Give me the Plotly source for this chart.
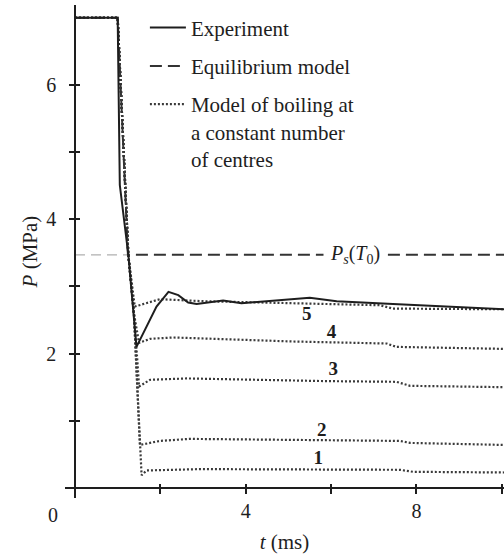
import plotly.graph_objects as go

# ---------------- data ----------------
t_exp = [0, 1.0, 1.05, 1.25, 1.44, 1.72, 1.91, 2.19, 2.42, 2.65, 2.85, 3.47, 3.90, 5.50, 6.13, 7.45, 10.05]
p_exp = [7.0, 7.0, 4.51, 3.47, 2.10, 2.45, 2.70, 2.92, 2.87, 2.76, 2.74, 2.79, 2.75, 2.83, 2.78, 2.74, 2.66]

t_eq = [0, 1.0, 1.24, 10.05]
p_eq = [7.0, 7.0, 3.47, 3.47]
t_ps_guide = [0, 1.24]
p_ps_guide = [3.47, 3.47]

t_m1 = [0, 1.0, 1.25, 1.38, 1.46, 1.52, 1.56, 1.68, 2.93, 7.61, 7.92, 10.05]
p_m1 = [7.0, 7.0, 3.47, 2.6, 1.5, 0.6, 0.19, 0.26, 0.28, 0.27, 0.24, 0.23]
t_m2 = [0, 1.0, 1.25, 1.38, 1.46, 1.52, 1.99, 2.69, 7.61, 7.85, 10.05]
p_m2 = [7.0, 7.0, 3.47, 2.6, 1.5, 0.64, 0.70, 0.73, 0.70, 0.67, 0.64]
t_m3 = [0, 1.0, 1.25, 1.38, 1.46, 1.50, 1.76, 2.62, 5.90, 7.53, 7.85, 10.05]
p_m3 = [7.0, 7.0, 3.47, 2.6, 1.9, 1.51, 1.61, 1.63, 1.59, 1.58, 1.52, 1.50]
t_m4 = [0, 1.0, 1.25, 1.38, 1.50, 1.76, 2.30, 5.11, 7.30, 7.53, 10.05]
p_m4 = [7.0, 7.0, 3.47, 2.6, 2.16, 2.22, 2.24, 2.18, 2.15, 2.10, 2.07]
t_m5 = [0, 1.0, 1.25, 1.40, 1.99, 3.0, 5.10, 7.14, 7.45, 10.05]
p_m5 = [7.0, 7.0, 3.47, 2.70, 2.81, 2.78, 2.75, 2.72, 2.67, 2.66]

model_t = [t_m1, t_m2, t_m3, t_m4, t_m5]
model_p = [p_m1, p_m2, p_m3, p_m4, p_m5]

label_text = ["1", "2", "3", "4", "5"]
label_t = [5.70, 5.78, 6.05, 6.01, 5.43]
label_p = [0.42, 0.84, 1.75, 2.31, 2.57]

ps_label_t = 6.55
ps_label_p = 3.47

x_major = [4, 8]
x_minor = [2, 6, 10]
x_all = [2, 4, 6, 8, 10]
y_major = [2, 4, 6]
y_minor = [1, 3, 5]
y_all = [1, 2, 3, 4, 5, 6]

x_range = [-0.234, 10.05]
y_range = [-0.15, 7.19]

# ---------------- figure ----------------
FONT = "'Liberation Serif', 'Times New Roman', Times, serif"
INK = "#1e1e1e"

fig = go.Figure()

for i, (tt, pp) in enumerate(zip(model_t, model_p)):
    fig.add_trace(go.Scatter(
        x=tt, y=pp, mode="lines",
        line=dict(color="#3a3a3a", width=2.2, dash="2px,2px"),
        name="Model of boiling at<br>a constant number<br>of centres",
        legendgroup="model", showlegend=(i == 0), legendrank=3, hoverinfo="skip"))

fig.add_trace(go.Scatter(
    x=t_ps_guide, y=p_ps_guide, mode="lines",
    line=dict(color="#b0b0b0", width=1.3, dash="10px,6px"),
    showlegend=False, hoverinfo="skip"))

fig.add_trace(go.Scatter(
    x=t_eq, y=p_eq, mode="lines",
    line=dict(color="#333333", width=2, dash="12px,6px"),
    name="Equilibrium model", legendgroup="eq", legendrank=2, hoverinfo="skip"))

fig.add_trace(go.Scatter(
    x=t_exp, y=p_exp, mode="lines",
    line=dict(color=INK, width=2),
    name="Experiment", legendgroup="exp", legendrank=1, hoverinfo="skip"))

# curve numbers, placed on the overlay axes (same ranges)
fig.add_trace(go.Scatter(
    x=label_t, y=label_p, mode="text", xaxis="x2", yaxis="y2",
    text=["<b>%s</b>" % s for s in label_text],
    textfont=dict(family=FONT, size=19, color=INK),
    showlegend=False, hoverinfo="skip"))

fig.add_annotation(x=ps_label_t, y=ps_label_p,
                   text="<i>P</i><sub><i>s</i></sub>(<i>T</i><sub>0</sub>)",
                   showarrow=False, bgcolor="white", borderpad=6,
                   font=dict(family=FONT, size=20, color=INK))

fig.add_annotation(x=0, y=0, text="0", showarrow=False, xanchor="center", yanchor="middle",
                   xshift=-22, yshift=-27, font=dict(family=FONT, size=20, color=INK))

xpos = (0 - y_range[0]) / (y_range[1] - y_range[0])
ypos = (0 - x_range[0]) / (x_range[1] - x_range[0])

common_x = dict(range=x_range, showgrid=False, zeroline=False,
                anchor="free", position=xpos, tickcolor=INK, tickwidth=1.5)
common_y = dict(range=y_range, showgrid=False, zeroline=False,
                anchor="free", position=ypos, tickcolor=INK, tickwidth=1.5)

fig.update_layout(
    width=504, height=557,
    margin=dict(l=65, r=0, t=5, b=59),
    paper_bgcolor="white", plot_bgcolor="white",
    font=dict(family=FONT, size=20, color=INK),
    xaxis=dict(**common_x, tickvals=x_major, ticks="outside", ticklen=5,
               minor=dict(tickvals=x_minor, ticks="outside", ticklen=5,
                          tickcolor=INK, tickwidth=1.5, showgrid=False),
               showline=True, linecolor=INK, linewidth=1.5,
               title=dict(text="<i>t</i> (ms)", font=dict(size=21), standoff=13),
               tickfont=dict(family=FONT, size=20, color=INK)),
    yaxis=dict(**common_y, tickvals=y_major, ticks="outside", ticklen=5,
               minor=dict(tickvals=y_minor, ticks="outside", ticklen=5,
                          tickcolor=INK, tickwidth=1.5, showgrid=False),
               showline=True, linecolor=INK, linewidth=1.5, ticklabelstandoff=9,
               title=dict(text="<i>P</i> (MPa)", font=dict(size=21), standoff=2),
               tickfont=dict(family=FONT, size=20, color=INK)),
    xaxis2=dict(**common_x, tickvals=x_all, overlaying="x", ticks="inside", ticklen=4,
                showticklabels=False, showline=False),
    yaxis2=dict(**common_y, tickvals=y_all, overlaying="y", ticks="inside", ticklen=4,
                showticklabels=False, showline=False),
    showlegend=True,
    legend=dict(x=0.182, y=0.995, xanchor="left", yanchor="top",
                bgcolor="rgba(0,0,0,0)", borderwidth=0, itemwidth=36,
                valign="top", tracegroupgap=8,
                font=dict(family=FONT, size=21, color=INK)),
)

fig.write_html("out.html")
